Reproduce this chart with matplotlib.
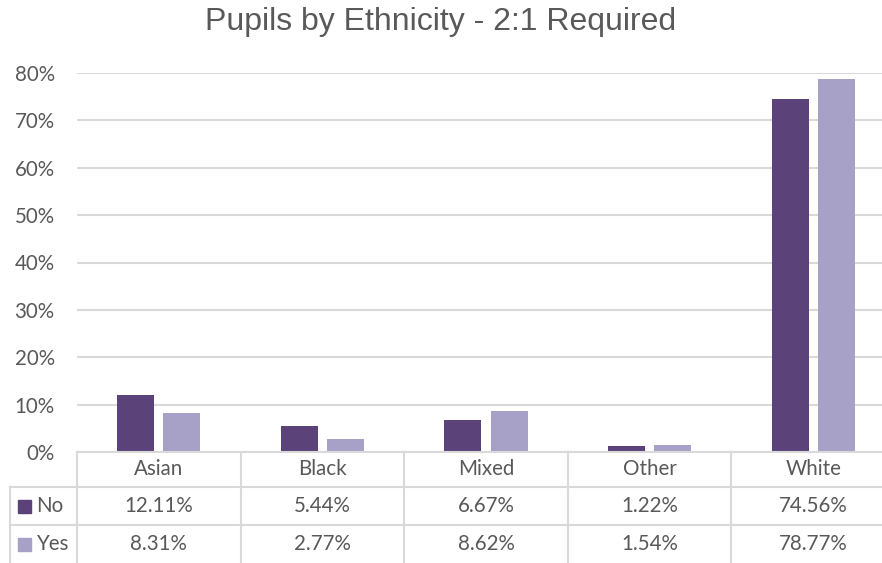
import matplotlib.pyplot as plt
import matplotlib.transforms as mtransforms
from matplotlib.lines import Line2D
from matplotlib.patches import Rectangle
from matplotlib.ticker import PercentFormatter

categories = ["Asian", "Black", "Mixed", "Other", "White"]
series_names = ["No", "Yes"]
no_values = [12.11, 5.44, 6.67, 1.22, 74.56]
yes_values = [8.31, 2.77, 8.62, 1.54, 78.77]

COLORS = ["#5B4279", "#A7A1C8"]
GRID = "#D9D9D9"
TEXT = "#595959"
W, H = 882, 563
FS = 14.8

plt.rcParams["font.family"] = ["Lato", "DejaVu Sans"]

fig = plt.figure(figsize=(W / 100, H / 100), dpi=100)
ax = fig.add_axes([77 / W, (H - 452) / H, (895 - 77) / W, (452 - 73) / H])

x = list(range(len(categories)))
bar_w = 0.226
offset = 0.141
ax.bar([i - offset for i in x], no_values, width=bar_w, color=COLORS[0], zorder=3)
ax.bar([i + offset for i in x], yes_values, width=bar_w, color=COLORS[1], zorder=3)

ax.set_xlim(-0.5, len(categories) - 0.5)
ax.set_ylim(0, 80)
ax.set_yticks(range(0, 81, 10))
ax.yaxis.set_major_formatter(PercentFormatter(decimals=0))
ax.tick_params(axis="y", length=0, pad=16, labelsize=FS, labelcolor=TEXT)
ax.set_xticks([])
ax.grid(axis="y", color=GRID, linewidth=1.5, zorder=0)
for s in ax.spines.values():
    s.set_visible(False)

fig.text(0.5, 1 - 22 / H, "Pupils by Ethnicity - 2:1 Required", ha="center", va="center",
         fontsize=23, color=TEXT, family=["Liberation Sans", "DejaVu Sans"])

# data table below the axis: x in data coords, y in figure pixels
tr = mtransforms.blended_transform_factory(ax.transData, fig.transFigure)
fy = lambda py: 1 - py / H
fx = lambda px: px / W

def hline(x0, x1, py, trans):
    fig.add_artist(Line2D([x0, x1], [fy(py), fy(py)], transform=trans, color=GRID, lw=1.5))

hline(-0.5, 4.6, 452, tr)
hline(fx(10), fx(W), 487, fig.transFigure)
hline(fx(10), fx(W), 525, fig.transFigure)
fig.add_artist(Line2D([fx(10), fx(10)], [fy(487), fy(563)], color=GRID, lw=1.5))
for b in range(len(categories) + 1):
    fig.add_artist(Line2D([b - 0.5, b - 0.5], [fy(452), fy(563)], transform=tr, color=GRID, lw=1.5))

for i, cat in enumerate(categories):
    fig.text(i, fy(469), cat, transform=tr, ha="center", va="center", fontsize=FS, color=TEXT)
    fig.text(i, fy(506), f"{no_values[i]:.2f}%", transform=tr, ha="center", va="center",
             fontsize=FS, color=TEXT)
    fig.text(i, fy(544), f"{yes_values[i]:.2f}%", transform=tr, ha="center", va="center",
             fontsize=FS, color=TEXT)

for name, color, py in zip(series_names, COLORS, [506, 544]):
    fig.add_artist(Rectangle((fx(18), fy(py + 7)), 13 / W, 13 / H, color=color,
                             transform=fig.transFigure))
    fig.text(fx(36), fy(py), name, ha="left", va="center", fontsize=FS, color=TEXT)

fig.savefig("out.png", dpi=100)
